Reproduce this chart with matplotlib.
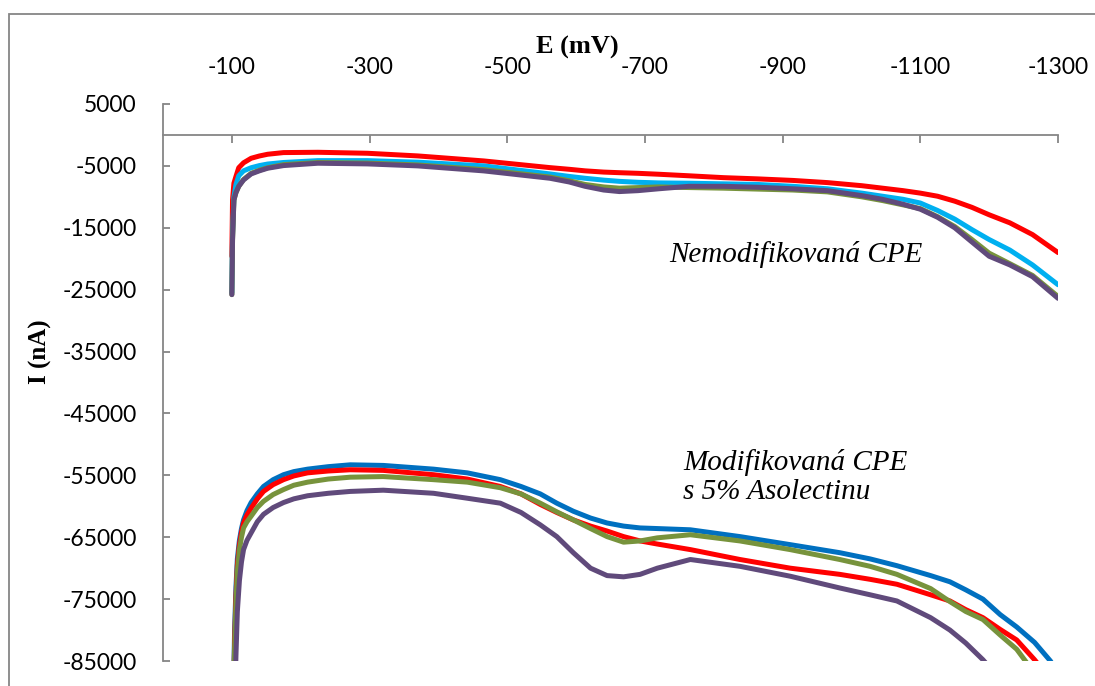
import matplotlib.pyplot as plt
from matplotlib.patches import Rectangle

# potential (mV) grid for the unmodified electrode
E_nemod = [-100, -101, -103, -106, -110, -117, -128, -140, -152, -175, -225, -297, -370, -466, -562,
           -590, -613, -640, -663, -690, -720, -764, -814, -864, -915, -965, -1015, -1045, -1075,
           -1100, -1125, -1150, -1175, -1200, -1230, -1263, -1300]

# current (nA), unmodified CPE
nemod_red = [-19600, -10500, -7800, -6700, -5300, -4500, -3770, -3400, -3120, -2850, -2800, -2960,
             -3390, -4200, -5280, -5550, -5800, -6000, -6100, -6200, -6350, -6600, -6900, -7100,
             -7350, -7700, -8200, -8600, -9000, -9400, -9900, -10700, -11700, -12900, -14200,
             -16100, -19000]
nemod_cyan = [-25500, -16000, -10000, -8000, -6600, -5800, -5300, -4950, -4700, -4450, -4150, -4150,
              -4400, -5000, -6300, -6700, -7000, -7300, -7500, -7650, -7750, -7800, -7900, -8000,
              -8300, -8700, -9400, -9900, -10400, -11000, -12200, -13600, -15300, -16900, -18600,
              -21000, -24200]
nemod_green = [-25800, -17000, -10500, -9300, -8300, -7200, -6200, -5700, -5300, -4800, -4450, -4550,
               -4850, -5600, -6800, -7400, -8000, -8400, -8600, -8500, -8400, -8500, -8600, -8750,
               -8900, -9200, -10000, -10600, -11300, -11900, -13200, -14800, -16900, -19100, -20800,
               -22700, -26100]
nemod_purple = [-25800, -17000, -10500, -9300, -8300, -7270, -6300, -5800, -5380, -4950, -4570, -4680,
                -5000, -5810, -7000, -7600, -8300, -8900, -9150, -9000, -8700, -8300, -8300, -8450,
                -8700, -9000, -9800, -10400, -11200, -12000, -13300, -15000, -17300, -19600, -21000,
                -22900, -26400]

# potential (mV) grid for CPE modified with 5% Asolectin
E_mod = [-100, -102, -104, -106, -108, -111, -114, -117, -122, -128, -137, -146, -160, -175, -190,
         -210, -240, -272, -320, -393, -442, -490, -520, -548, -572, -596, -621, -645, -669, -693,
         -718, -766, -838, -911, -983, -1027, -1066, -1115, -1143, -1166, -1191, -1216, -1240,
         -1266, -1289, -1300]

mod_blue = [-120000, -92000, -80000, -73000, -68500, -65500, -63600, -62200, -60700, -59400, -58000,
            -56800, -55700, -54900, -54400, -54000, -53600, -53300, -53400, -54000, -54600, -55700,
            -56800, -58000, -59500, -60800, -61900, -62700, -63200, -63500, -63600, -63800, -64900,
            -66200, -67500, -68500, -69600, -71200, -72200, -73500, -75000, -77500, -79500, -82000,
            -85000, -87000]
mod_red = [-120000, -94000, -82000, -74500, -69500, -66200, -64200, -62700, -61400, -60300, -58800,
           -57600, -56500, -55700, -55100, -54600, -54300, -54100, -54200, -54900, -55600, -56800,
           -58000, -59700, -61000, -62200, -63200, -64000, -64900, -65600, -66100, -67000, -68600,
           -70000, -71000, -71800, -72600, -74300, -75300, -76700, -78000, -79900, -81600, -84800,
           -88000, -90000]
mod_green = [-120000, -95000, -83000, -75500, -70500, -67000, -65000, -63500, -62500, -61600, -60200,
             -59200, -58100, -57300, -56600, -56100, -55600, -55300, -55200, -55700, -56100, -57000,
             -58000, -59500, -60900, -62200, -63600, -64900, -65800, -65600, -65100, -64600, -65600,
             -67000, -68600, -69700, -71000, -73300, -75400, -77000, -78300, -80800, -83100, -87000,
             -91000, -93000]
mod_purple = [-130000, -105000, -92000, -84000, -77000, -72000, -69000, -67000, -65500, -64300, -62500,
              -61300, -60200, -59400, -58800, -58300, -57900, -57600, -57400, -57900, -58700, -59500,
              -61000, -63000, -64900, -67500, -70000, -71200, -71400, -71000, -70000, -68600, -69700,
              -71300, -73200, -74300, -75300, -78000, -80000, -82100, -84800, -88000, -91000, -94000,
              -97000, -98000]

x_ticks = [-100, -300, -500, -700, -900, -1100, -1300]
y_ticks = [5000, -5000, -15000, -25000, -35000, -45000, -55000, -65000, -75000, -85000]

RED = "#FF0000"
CYAN = "#00B0F0"
GREEN = "#77933C"
PURPLE = "#604A7B"
BLUE = "#0070C0"
GRAY = "#868686"

plt.rcParams["font.family"] = ["Lato", "DejaVu Sans"]

fig = plt.figure(figsize=(10.95, 6.86), dpi=100)
ax = fig.add_axes([163 / 1095, 1 - 661 / 686, (1058 - 163) / 1095, (661 - 104) / 686])

lw = 3.6
# nemodifikovana CPE
ax.plot(E_nemod, nemod_red, color=RED, lw=lw, solid_capstyle="round", solid_joinstyle="round")
ax.plot(E_nemod, nemod_cyan, color=CYAN, lw=lw, solid_capstyle="round", solid_joinstyle="round")
ax.plot(E_nemod, nemod_green, color=GREEN, lw=lw, solid_capstyle="round", solid_joinstyle="round")
ax.plot(E_nemod, nemod_purple, color=PURPLE, lw=lw, solid_capstyle="round", solid_joinstyle="round")
# modifikovana CPE
ax.plot(E_mod, mod_blue, color=BLUE, lw=lw, solid_joinstyle="round")
ax.plot(E_mod, mod_red, color=RED, lw=lw, solid_joinstyle="round")
ax.plot(E_mod, mod_green, color=GREEN, lw=lw, solid_joinstyle="round")
ax.plot(E_mod, mod_purple, color=PURPLE, lw=lw, solid_joinstyle="round")

ax.set_xlim(0, -1300)
ax.set_ylim(-85000, 5000)
ax.set_xticks(x_ticks)
ax.set_yticks(y_ticks)
ax.set_yticklabels([str(v) for v in y_ticks])

# osy ve stylu Excelu
ax.spines["top"].set_visible(False)
ax.spines["right"].set_visible(False)
ax.spines["bottom"].set_position(("data", 0))
for s in ("left", "bottom"):
    ax.spines[s].set_color(GRAY)
    ax.spines[s].set_linewidth(1.3)
ax.tick_params(axis="x", direction="out", length=6, width=1.3, color=GRAY, labelbottom=False)
ax.tick_params(axis="y", direction="in", length=5, width=1.3, color=GRAY, labelsize=16.5, pad=19)

# popisky osy x nahore
top = ax.secondary_xaxis("top")
top.set_xticks(x_ticks)
top.set_xticklabels([str(v) for v in x_ticks])
top.tick_params(length=0, labelsize=16.5, pad=19)
top.spines["top"].set_visible(False)

fig.text(577 / 1095, 1 - 47 / 686, "E (mV)", ha="center", va="center",
         fontfamily="Liberation Serif", fontweight="bold", fontsize=19)
fig.text(40 / 1095, 1 - 352 / 686, "I (nA)", rotation=90, ha="center", va="center",
         fontfamily="Liberation Serif", fontweight="bold", fontsize=18)

fig.text(669 / 1095, 1 - 255 / 686, "Nemodifikovaná CPE", ha="left", va="center",
         fontfamily="Liberation Serif", style="italic", fontsize=21)
fig.text(683 / 1095, 1 - 477 / 686, "Modifikovaná CPE\ns 5% Asolectinu", ha="left", va="center",
         fontfamily="Liberation Serif", style="italic", fontsize=21, linespacing=1.12)

# ramecek grafu
fig.patches.append(Rectangle((9 / 1095, -0.05), 1.0, 1 - 14 / 686 + 0.05, transform=fig.transFigure,
                             fill=False, edgecolor=GRAY, lw=1.3))

fig.savefig("out.png", dpi=100)
